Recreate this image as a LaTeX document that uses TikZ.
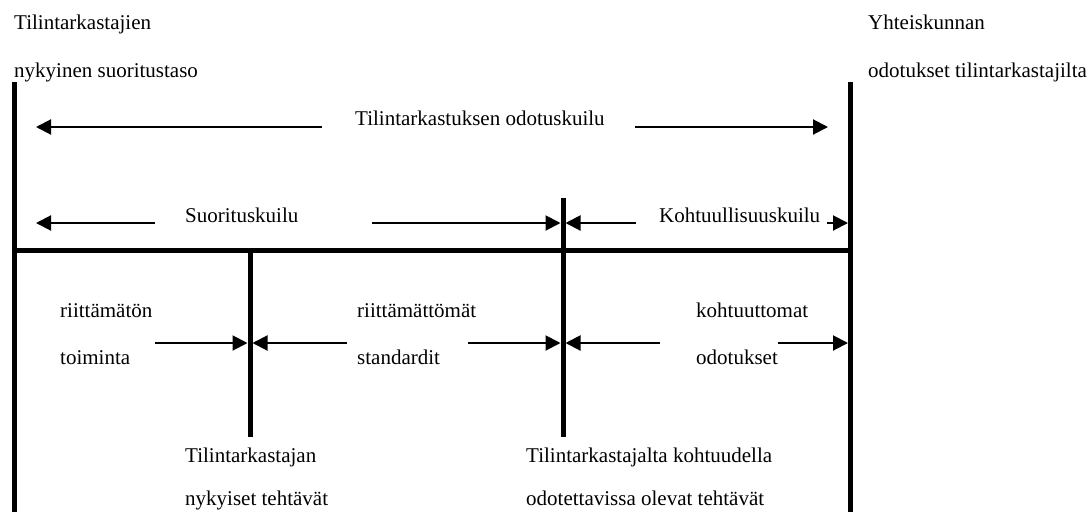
\documentclass[tikz,border=0pt]{standalone}
\usepackage{fontspec}
\setmainfont{Liberation Serif}
\usetikzlibrary{arrows.meta}
\begin{document}
\begin{tikzpicture}[x=1pt,y=-1pt,
  bar/.style={line width=5pt},
  gaparrow/.style={line width=2pt,-{Triangle[length=15pt,width=15pt]}},
  lbl/.style={anchor=base west,inner sep=0pt,font=\fontsize{21}{25}\selectfont}]
\useasboundingbox (0,0) rectangle (1089,512);
% structural lines
\coordinate (LT) at (14.5,82);  \coordinate (LB) at (14.5,512);
\coordinate (RT) at (850.5,82); \coordinate (RB) at (850.5,512);
\coordinate (HL) at (12,250);   \coordinate (HR) at (853,250);
\coordinate (AT) at (250,250);  \coordinate (AB) at (250,437);
\coordinate (BT) at (563,198);  \coordinate (BB) at (563,437);
\draw[bar] (LT) -- (LB);
\draw[bar] (RT) -- (RB);
\draw[bar] (HL) -- (HR);
\draw[bar] (AT) -- (AB);
\draw[bar] (BT) -- (BB);
% texts
\node[lbl] (t1) at (14,29) {Tilintarkastajien};
\node[lbl] (t2) at (14,77) {nykyinen suoritustaso};
\node[lbl] (t3) at (868,29) {Yhteiskunnan};
\node[lbl] (t4) at (868,77) {odotukset tilintarkastajilta};
\node[lbl] (g1) at (355,125) {Tilintarkastuksen odotuskuilu};
\node[lbl] (g2) at (185,222) {Suorituskuilu};
\node[lbl] (g3) at (659,222) {Kohtuullisuuskuilu};
\node[lbl] (r1) at (60,317) {riittämätön};
\node[lbl] (r2) at (60,364) {toiminta};
\node[lbl] (s1) at (357,317) {riittämättömät};
\node[lbl] (s2) at (357,364) {standardit};
\node[lbl] (k1) at (696,317) {kohtuuttomat};
\node[lbl] (k2) at (696,364) {odotukset};
\node[lbl] (n1) at (185,462) {Tilintarkastajan};
\node[lbl] (n2) at (185,505) {nykyiset tehtävät};
\node[lbl] (o1) at (526,462) {Tilintarkastajalta kohtuudella};
\node[lbl] (o2) at (526,505) {odotettavissa olevat tehtävät};
% arrow coordinates
\coordinate (a1s) at (322,127); \coordinate (a1e) at (36,127);
\coordinate (a2s) at (635,127); \coordinate (a2e) at (828,127);
\coordinate (b1s) at (155,223); \coordinate (b1e) at (36,223);
\coordinate (b2s) at (372,223); \coordinate (b2e) at (560.5,223);
\coordinate (b3s) at (636,223); \coordinate (b3e) at (565.5,223);
\coordinate (b4s) at (827,223); \coordinate (b4e) at (848,223);
\coordinate (c1s) at (155,343); \coordinate (c1e) at (247.5,343);
\coordinate (c2s) at (347,343); \coordinate (c2e) at (252.5,343);
\coordinate (c3s) at (468,343); \coordinate (c3e) at (560.5,343);
\coordinate (c4s) at (660,343); \coordinate (c4e) at (565.5,343);
\coordinate (c5s) at (778,343); \coordinate (c5e) at (848,343);
\foreach \s/\e in {a1s/a1e,a2s/a2e,b1s/b1e,b2s/b2e,b3s/b3e,b4s/b4e,c1s/c1e,c2s/c2e,c3s/c3e,c4s/c4e,c5s/c5e}
  \draw[gaparrow] (\s) -- (\e);
\end{tikzpicture}
\end{document}
